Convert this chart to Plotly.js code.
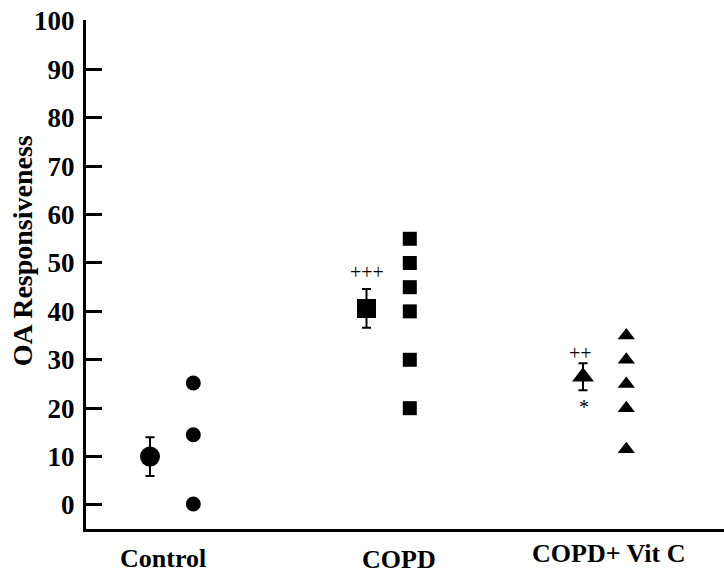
<!DOCTYPE html>
<html>
<head>
<meta charset="utf-8">
<script src="https://cdn.plot.ly/plotly-3.0.1.min.js"></script>
<style>html,body{margin:0;padding:0;background:#fff;}#chart{width:724px;height:574px;}</style>
</head>
<body>
<div id="chart"></div>
<script>
// ---- data ----
const categories = ["Control", "COPD", "COPD+ Vit C"];
const groupIndex = [1, 2, 3];
const meanValues = [10, 40.6, 26.5];
const meanErrors = [4, 4, 2.8];
const controlValues = [25.2, 14.5, 0.2];
const copdValues = [55, 50, 45, 40, 30, 20];
const vitCValues = [35, 30, 25, 20, 11.5];
const yTickValues = [0, 10, 20, 30, 40, 50, 60, 70, 80, 90, 100];
const significance = ["+++", "++", "*"];

const serif = "Liberation Serif, Times New Roman, serif";
const pointOffset = 0.2;
const symbols = ["circle", "square", "triangle-up"];
const meanSizes = [20, 19, 19];
const pointSizes = [15, 14, 15];
const individual = [controlValues, copdValues, vitCValues];

const traces = [];
groupIndex.forEach((g, i) => {
  traces.push({
    type: "scatter", mode: "markers",
    x: [g], y: [meanValues[i]],
    marker: {symbol: symbols[i], size: meanSizes[i], color: "#000"},
    error_y: {type: "data", array: [meanErrors[i]], visible: true, color: "#000", thickness: 2, width: 4.5},
    showlegend: false, hoverinfo: "y"
  });
  traces.push({
    type: "scatter", mode: "markers",
    x: individual[i].map(() => g + pointOffset), y: individual[i],
    marker: {symbol: symbols[i], size: pointSizes[i], color: "#000"},
    showlegend: false, hoverinfo: "y"
  });
});

const catLabelY = [-0.057, -0.059, -0.049];
const catLabelX = [0.06, 0.152, 0.12];
const annotations = categories.map((c, i) => ({
  text: c, xref: "x", yref: "paper",
  x: groupIndex[i] + catLabelX[i], y: catLabelY[i],
  xanchor: "center", yanchor: "middle", showarrow: false,
  font: {family: serif, size: 26, color: "#000", weight: "bold"}
}));
annotations.push({
  text: "OA Responsiveness", xref: "paper", yref: "paper",
  x: -0.1, y: 0.546, textangle: -90,
  xanchor: "center", yanchor: "middle", showarrow: false,
  font: {family: serif, size: 28, color: "#000", weight: "bold"}
});
annotations.push({text: significance[0], xref: "x", yref: "y", x: 2.0, y: 48.1, showarrow: false,
  xanchor: "center", yanchor: "middle", font: {family: serif, size: 20, color: "#000"}});
annotations.push({text: significance[1], xref: "x", yref: "y", x: 2.99, y: 31.4, showarrow: false,
  xanchor: "center", yanchor: "middle", font: {family: serif, size: 20, color: "#000"}});
annotations.push({text: significance[2], xref: "x", yref: "y", x: 3.005, y: 20.3, showarrow: false,
  xanchor: "center", yanchor: "middle", font: {family: serif, size: 20, color: "#000"}});

const layout = {
  width: 724, height: 574,
  margin: {l: 86, r: 0, t: 20, b: 45},
  paper_bgcolor: "#fff", plot_bgcolor: "#fff",
  showlegend: false,
  xaxis: {
    range: [0.7044, 3.6513], showgrid: false, zeroline: false,
    showline: true, linecolor: "#000", linewidth: 3,
    showticklabels: false, ticks: ""
  },
  yaxis: {
    range: [-4.96, 100.2], showgrid: false, zeroline: false,
    showline: true, linecolor: "#000", linewidth: 3,
    tickvals: yTickValues, ticktext: yTickValues.map(String),
    ticks: "inside", ticklen: 16, tickwidth: 3, tickcolor: "#000",
    ticklabelstandoff: 3,
    tickfont: {family: serif, size: 27, color: "#000", weight: "bold"}
  },
  annotations: annotations
};

Plotly.newPlot("chart", traces, layout, {displayModeBar: false, staticPlot: true});
</script>
</body>
</html>
